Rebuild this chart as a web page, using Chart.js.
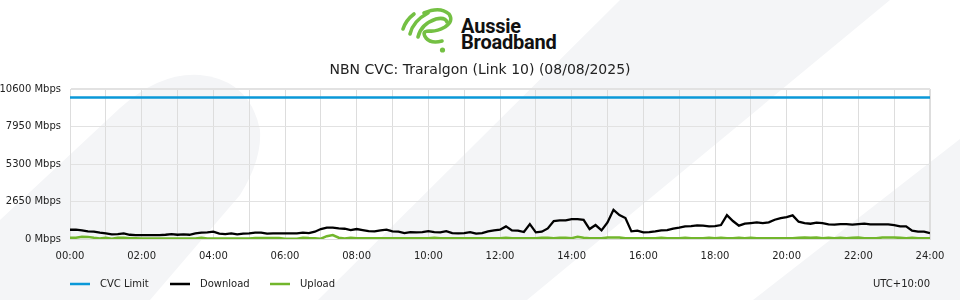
<!DOCTYPE html>
<html>
<head>
<meta charset="utf-8">
<script src="https://cdn.jsdelivr.net/npm/chart.js@4/dist/chart.umd.min.js"></script>
<style>
html,body{margin:0;padding:0;background:#fff;width:960px;height:300px;overflow:hidden;}
#wrap{position:relative;width:960px;height:300px;}
#bg,#c{position:absolute;left:0;top:0;}
.brand{position:absolute;left:461px;font-family:Roboto,"Liberation Sans",sans-serif;font-weight:700;font-size:20px;color:#111;line-height:20px;letter-spacing:-0.2px;white-space:nowrap;}
</style>
</head>
<body>
<div id="wrap">
<svg id="bg" width="960" height="300" viewBox="0 0 960 300">
  <g fill="#f4f5f7">
    <path d="M0,220 L120,108 Q160,72 200,75 Q250,80 260,130 Q262,160 240,195 L150,300 L0,300 Z"/>
    <path d="M318,300 L620,0 L890,0 L527,300 Z"/>
    <path d="M753,300 L960,139 L960,300 Z"/>
  </g>
  <g fill="none" stroke="#74c043" stroke-width="3.6" stroke-linecap="round">
    <path d="M403,29 Q406,20 414,14"/>
    <path d="M410,34 Q413,21 428,13"/>
    <path d="M418,37 Q421,24 436,19 Q445,17 447,22"/>
    <path d="M424,13 Q440,6 449,14 Q454,21 445,27 Q436,32 429,31 Q421,31 426,38 Q431,44 442,41"/>
  </g>
  <circle cx="442.5" cy="50" r="2.6" fill="#74c043"/>
</svg>
<div class="brand" style="top:16px">Aussie</div>
<div class="brand" style="top:31.5px">Broadband</div>
<canvas id="c" width="960" height="300"></canvas>
</div>
<script>
// ---- data ----
const titleText = 'NBN CVC: Traralgon (Link 10) (08/08/2025)';
const timezoneLabel = 'UTC+10:00';
const seriesNames = ['CVC Limit', 'Download', 'Upload'];
const xTickLabels = ['00:00','02:00','04:00','06:00','08:00','10:00','12:00','14:00','16:00','18:00','20:00','22:00','24:00'];
const yTickLabels = ['0 Mbps','2650 Mbps','5300 Mbps','7950 Mbps','10600 Mbps'];
const yTickValues = [0, 2650, 5300, 7950, 10600];
const cvcLimit = 10000;
const sampleMinutes = 10;
// Download (Mbps), one value every 10 minutes from 00:00 to 24:00
const download = [
  655, 655, 610, 540, 515, 445, 395, 325, 350, 395,
  300, 280, 280, 280, 280, 280, 300, 350, 300, 325,
  300, 395, 445, 465, 515, 375, 350, 395, 325, 375,
  395, 445, 445, 375, 395, 395, 395, 395, 395, 445,
  420, 515, 705, 800, 800, 750, 725, 630, 705, 630,
  560, 540, 610, 655, 540, 515, 420, 490, 465, 490,
  560, 490, 465, 560, 420, 395, 420, 490, 375, 420,
  540, 610, 655, 890, 610, 585, 490, 1050, 470, 515,
  750, 1270, 1315, 1315, 1410, 1410, 1360, 705, 985, 610,
  1175, 2060, 1690, 1480, 540, 585, 465, 490, 540, 610,
  630, 725, 800, 890, 915, 960, 940, 890, 915, 985,
  1690, 1270, 940, 1080, 1125, 1175, 1125, 1175, 1360, 1480,
  1550, 1670, 1220, 1125, 1080, 1150, 1125, 1030, 1010, 1055,
  1055, 1010, 1055, 1080, 1030, 1030, 1030, 1030, 985, 890,
  890, 585, 515, 515, 420
];
// Upload (Mbps), same sampling
const upload = [
  90, 90, 160, 150, 90, 40, 90, 20, 90, 90,
  50, 50, 40, 40, 40, 40, 40, 40, 40, 40,
  40, 40, 90, 40, 40, 40, 40, 40, 40, 40,
  40, 65, 65, 65, 65, 65, 20, 20, 20, 90,
  65, 60, 20, 200, 280, 90, 40, 90, 50, 50,
  50, 50, 50, 50, 50, 50, 50, 50, 50, 50,
  50, 80, 50, 50, 50, 50, 50, 50, 50, 50,
  50, 50, 50, 90, 50, 50, 50, 50, 50, 90,
  90, 50, 90, 90, 60, 160, 90, 50, 50, 50,
  100, 100, 100, 50, 50, 50, 50, 50, 50, 80,
  50, 50, 50, 80, 50, 50, 50, 80, 50, 80,
  50, 50, 80, 50, 80, 50, 50, 50, 50, 50,
  50, 50, 80, 100, 80, 100, 50, 80, 50, 80,
  50, 80, 100, 50, 50, 50, 100, 100, 100, 80,
  50, 80, 50, 50, 50
];
const colors = ['#0a98d8', '#000000', '#72b62c'];

// ---- build ----
const toPoints = arr => arr.map((v, i) => ({ x: i * sampleMinutes, y: v }));
const dayEnd = (download.length - 1) * sampleMinutes;
const FONT = '"DejaVu Sans", sans-serif';

const overlay = {
  id: 'overlay',
  afterDraw(chart) {
    const ctx = chart.ctx;
    ctx.save();
    ctx.fillStyle = '#222';
    ctx.font = '14px ' + FONT;
    ctx.textAlign = 'center';
    ctx.textBaseline = 'middle';
    ctx.fillText(titleText, 480, 70);
    ctx.font = '10px ' + FONT;
    ctx.textAlign = 'left';
    chart.data.datasets.forEach((ds, i) => {
      const x = chart.chartArea.left + i * 100;
      ctx.strokeStyle = ds.borderColor;
      ctx.lineWidth = 2.5;
      ctx.beginPath();
      ctx.moveTo(x, 284);
      ctx.lineTo(x + 20, 284);
      ctx.stroke();
      ctx.fillStyle = '#222';
      ctx.fillText(ds.label, x + 30, 284.5);
    });
    ctx.textAlign = 'right';
    ctx.fillText(timezoneLabel, chart.chartArea.right, 284.5);
    ctx.restore();
  }
};

new Chart(document.getElementById('c'), {
  type: 'line',
  data: {
    datasets: [
      { label: seriesNames[0], data: [{x: 0, y: cvcLimit}, {x: dayEnd, y: cvcLimit}], borderColor: colors[0], borderWidth: 2.5, pointRadius: 0 },
      { label: seriesNames[1], data: toPoints(download), borderColor: colors[1], borderWidth: 2.3, pointRadius: 0 },
      { label: seriesNames[2], data: toPoints(upload), borderColor: colors[2], borderWidth: 2.5, pointRadius: 0 }
    ]
  },
  options: {
    responsive: false,
    animation: false,
    events: [],
    layout: { padding: { top: 89, right: 30, bottom: 0, left: 0 } },
    plugins: { legend: { display: false }, title: { display: false }, tooltip: { enabled: false } },
    scales: {
      x: {
        type: 'linear', min: 0, max: dayEnd,
        afterFit(scale) { scale.height = 61; },
        grid: { color: '#dddddd', lineWidth: c => (c.tick && c.tick.value === dayEnd ? 2 : 1), drawTicks: false },
        border: { display: true, color: '#dddddd', width: 1 },
        ticks: {
          stepSize: 60, padding: 11, autoSkip: false, maxRotation: 0,
          color: '#222', font: { family: FONT, size: 10 },
          callback: v => (v % 120 === 0 ? xTickLabels[v / 120] : '')
        }
      },
      y: {
        min: 0, max: 10600,
        afterFit(scale) { scale.width = 70; },
        afterBuildTicks(scale) { scale.ticks = yTickValues.map(v => ({ value: v })); },
        grid: { color: '#e2e2e2', lineWidth: c => (c.tick && c.tick.value === 10600 ? 2 : 1), drawTicks: false },
        border: { display: true, color: '#dddddd', width: 1 },
        ticks: {
          padding: 9, color: '#222', font: { family: FONT, size: 10 },
          callback: v => yTickLabels[yTickValues.indexOf(v)]
        }
      }
    }
  },
  plugins: [overlay]
});
</script>
</body>
</html>
